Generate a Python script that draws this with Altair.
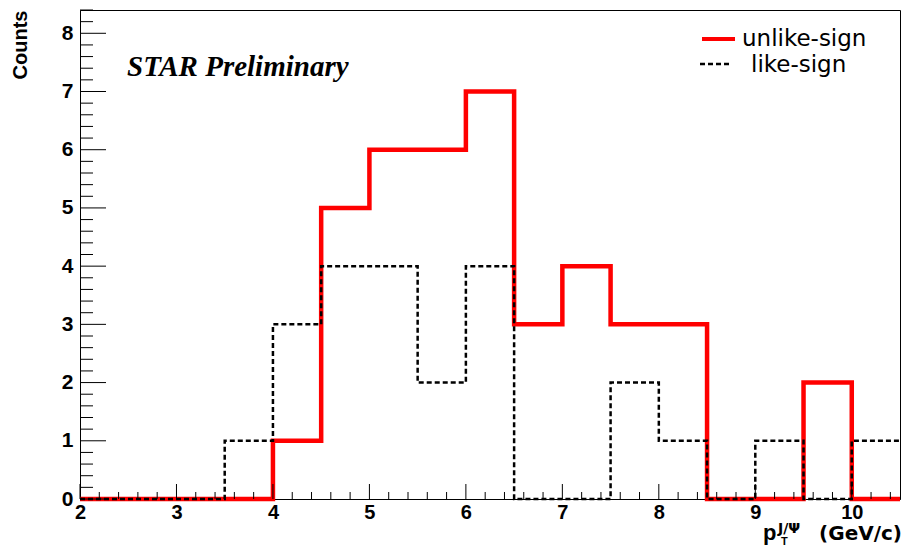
import altair as alt
import pandas as pd

# ---- data (bin lower edges, width 0.5 GeV/c) ----
bin_lo = [2.0, 2.5, 3.0, 3.5, 4.0, 4.5, 5.0, 5.5, 6.0, 6.5, 7.0, 7.5, 8.0, 8.5, 9.0, 9.5, 10.0]
bin_hi_last = 10.5
unlike_sign = [0, 0, 0, 0, 1, 5, 6, 6, 7, 3, 4, 3, 3, 0, 0, 2, 0]
like_sign = [0, 0, 0, 1, 3, 4, 4, 2, 4, 0, 0, 2, 1, 0, 1, 0, 1]
x_ticks = [2, 3, 4, 5, 6, 7, 8, 9, 10]
y_ticks = [0, 1, 2, 3, 4, 5, 6, 7, 8]

W, H = 820, 489
x_scale = alt.Scale(domain=[2, 10.5], nice=False, zero=False)
y_scale = alt.Scale(domain=[0, 8.4], nice=False, zero=False)

def step_df(vals):
    return pd.DataFrame({"x": bin_lo + [bin_hi_last], "y": vals + [vals[-1]]})

FONT = "Liberation Sans"

x_axis = alt.Axis(values=x_ticks, format="d", tickSize=0, grid=False, title=None,
                  labelFont=FONT, labelFontWeight="bold", labelFontSize=20,
                  labelColor="black", labelPadding=3, domainColor="black",
                  labelFlush=False, labelOverlap=False)
y_axis = alt.Axis(values=y_ticks, format="d", tickSize=0, grid=False, title=None,
                  labelFont=FONT, labelFontWeight="bold", labelFontSize=21,
                  labelColor="black", labelPadding=7, domainColor="black",
                  labelOverlap=False)

unlike = alt.Chart(step_df(unlike_sign)).mark_line(
    interpolate="step-after", color="#ff0000", strokeWidth=4.5
).encode(x=alt.X("x:Q", scale=x_scale, axis=x_axis),
         y=alt.Y("y:Q", scale=y_scale, axis=y_axis))

like = alt.Chart(step_df(like_sign)).mark_line(
    interpolate="step-after", color="black", strokeWidth=2.5, strokeDash=[5, 3]
).encode(x=alt.X("x:Q", scale=x_scale), y=alt.Y("y:Q", scale=y_scale))

# inward ticks (ROOT style)
y_minor = [round(i * 0.2, 1) for i in range(0, 43) if i % 5 != 0]
x_minor = [round(2 + i * 0.2, 1) for i in range(0, 43) if i % 5 != 0]

ytm = alt.Chart(pd.DataFrame({"v": y_ticks})).mark_rule(color="black", strokeWidth=1).encode(
    y=alt.Y("v:Q", scale=y_scale), x=alt.value(0), x2=alt.value(26))
ytn = alt.Chart(pd.DataFrame({"v": y_minor})).mark_rule(color="black", strokeWidth=1).encode(
    y=alt.Y("v:Q", scale=y_scale), x=alt.value(0), x2=alt.value(13))
xtm = alt.Chart(pd.DataFrame({"v": x_ticks})).mark_rule(color="black", strokeWidth=1).encode(
    x=alt.X("v:Q", scale=x_scale), y=alt.value(H), y2=alt.value(H - 15))
xtn = alt.Chart(pd.DataFrame({"v": x_minor})).mark_rule(color="black", strokeWidth=1).encode(
    x=alt.X("v:Q", scale=x_scale), y=alt.value(H), y2=alt.value(H - 7))

def txt(s, x, y, **kw):
    return alt.Chart(pd.DataFrame({"t": [s]})).mark_text(**kw).encode(
        text="t:N", x=alt.value(x), y=alt.value(y))

# legend
leg_red = alt.Chart(pd.DataFrame({"a": [0]})).mark_rule(color="#ff0000", strokeWidth=4).encode(
    x=alt.value(622), x2=alt.value(655), y=alt.value(29))
leg_blk = alt.Chart(pd.DataFrame({"a": [0]})).mark_rule(color="black", strokeWidth=2.5, strokeDash=[5, 3]).encode(
    x=alt.value(620), x2=alt.value(651), y=alt.value(54))
leg_t1 = txt("unlike-sign", 662, 36, font="DejaVu Sans", fontSize=23, align="left",
             baseline="alphabetic", color="black")
leg_t2 = txt("like-sign", 671, 62, font="DejaVu Sans", fontSize=23, align="left",
             baseline="alphabetic", color="black")

star = txt("STAR Preliminary", 47, 66, font="Liberation Serif", fontSize=29,
           fontWeight="bold", fontStyle="italic", align="left", baseline="alphabetic",
           color="black")

counts = txt("Counts", -59, 35, font=FONT, fontSize=20, fontWeight="bold", angle=270,
             align="center", baseline="middle", color="black")

xt_p = txt("p", 683, 530, font=FONT, fontSize=22, fontWeight="bold", align="left",
           baseline="alphabetic", color="black")
xt_sup = txt("J/\u03a8", 698, 523, font="DejaVu Sans", fontSize=14, fontWeight="bold",
             align="left", baseline="alphabetic", color="black")
xt_sub = txt("T", 701, 535, font=FONT, fontSize=11, fontWeight="bold", align="left",
             baseline="alphabetic", color="black")
xt_rest = txt("(GeV/c)", 822, 530, font="DejaVu Sans", fontSize=20, fontWeight="bold",
              align="right", baseline="alphabetic", color="black")

chart = alt.layer(
    unlike, like, ytm, ytn, xtm, xtn,
    leg_red, leg_blk, leg_t1, leg_t2, star, counts, xt_p, xt_sup, xt_sub, xt_rest
).properties(
    width=W, height=H,
    autosize=alt.AutoSizeParams(type="none"),
    padding={"left": 80, "right": 4, "top": 10, "bottom": 49},
    background="white",
).configure_view(stroke="black", strokeWidth=1)

chart.save("out.html", embed_options={"renderer": "svg", "actions": False})
